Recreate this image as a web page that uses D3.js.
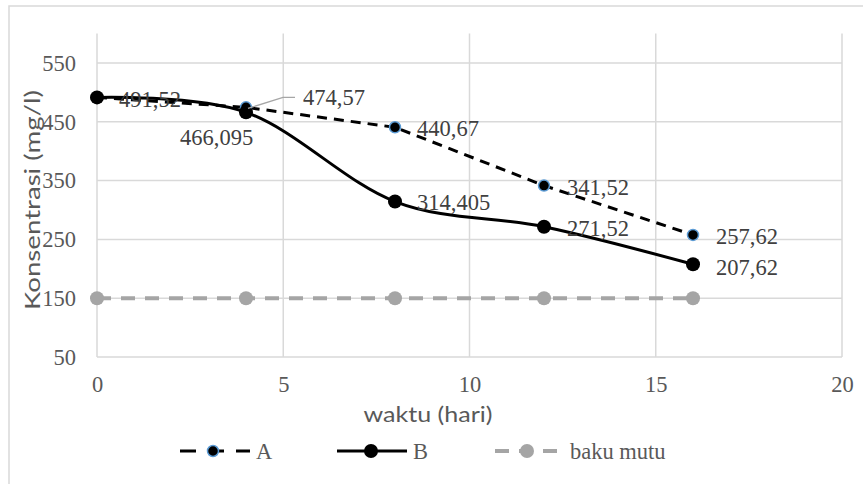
<!DOCTYPE html>
<html><head><meta charset="utf-8">
<script src="https://cdn.jsdelivr.net/npm/d3@7/dist/d3.min.js"></script>
<style>body{margin:0;background:#fff}svg{display:block}</style>
</head><body>
<svg id="c" width="863" height="484"></svg>
<script>
const days = [0, 4, 8, 12, 16];
const seriesA = [491.52, 474.57, 440.67, 341.52, 257.62];
const seriesB = [491.52, 466.095, 314.405, 271.52, 207.62];
const bakuMutu = [150, 150, 150, 150, 150];
const labelsA = ["", "474,57", "440,67", "341,52", "257,62"];
const labelsB = ["491,52", "466,095", "314,405", "271,52", "207,62"];
const xTicks = [0, 5, 10, 15, 20];
const yTicks = [50, 150, 250, 350, 450, 550];
const legendNames = ["A", "B", "baku mutu"];

const svg = d3.select("#c");
const x = d3.scaleLinear().domain([0, 20]).range([97, 842]);
const y = d3.scaleLinear().domain([50, 600]).range([357, 33.6]);
const serif = "'Liberation Serif','Times New Roman',serif";
const sans = "Lato,'Open Sans',sans-serif";
const FS = 22.5;

// chart border
svg.append("rect").attr("x", 9).attr("y", 6).attr("width", 870).attr("height", 490)
  .attr("fill", "none").attr("stroke", "#d9d9d9").attr("stroke-width", 1.5);

// gridlines
const g = svg.append("g");
g.selectAll(".hg").data(yTicks).join("line")
  .attr("x1", x(0)).attr("x2", x(20)).attr("y1", d => y(d)).attr("y2", d => y(d))
  .attr("stroke", "#d9d9d9").attr("stroke-width", 1.5);
g.selectAll(".vg").data(xTicks).join("line")
  .attr("y1", y(50)).attr("y2", y(600)).attr("x1", d => x(d)).attr("x2", d => x(d))
  .attr("stroke", "#d9d9d9").attr("stroke-width", 1.5);

// axes labels
const yAxis = d3.axisLeft(y).tickValues(yTicks).tickSize(0).tickPadding(21).tickFormat(d3.format("d"));
const ya = svg.append("g").attr("transform", `translate(${x(0)},0)`).call(yAxis)
  .attr("font-family", serif).attr("font-size", FS);
ya.select(".domain").remove();
ya.selectAll("text").attr("fill", "#595959");

const xAxis = d3.axisBottom(x).tickValues(xTicks).tickSize(0).tickPadding(19).tickFormat(d3.format("d"));
const xa = svg.append("g").attr("transform", `translate(0,${y(50)})`).call(xAxis)
  .attr("font-family", serif).attr("font-size", FS);
xa.select(".domain").remove();
xa.selectAll("text").attr("fill", "#595959");

// axis titles
svg.append("text").attr("x", 428).attr("y", 422).attr("text-anchor", "middle")
  .attr("font-family", sans).attr("font-size", 22).attr("fill", "#595959")
  .attr("textLength", 129).attr("lengthAdjust", "spacingAndGlyphs").text("waktu (hari)");
svg.append("text").attr("transform", "translate(40,200) rotate(-90)").attr("text-anchor", "middle")
  .attr("font-family", sans).attr("font-size", 22).attr("fill", "#595959")
  .attr("textLength", 220).attr("lengthAdjust", "spacingAndGlyphs").text("Konsentrasi (mg/l)");

const ptsA = days.map((d, i) => [d, seriesA[i]]);
const ptsB = days.map((d, i) => [d, seriesB[i]]);
const ptsC = days.map((d, i) => [d, bakuMutu[i]]);

// baku mutu
svg.append("path").datum(ptsC)
  .attr("d", d3.line().x(d => x(d[0])).y(d => y(d[1])))
  .attr("fill", "none").attr("stroke", "#a5a5a5").attr("stroke-width", 4).attr("stroke-dasharray", "14,10");
svg.selectAll(".mc").data(ptsC).join("circle")
  .attr("cx", d => x(d[0])).attr("cy", d => y(d[1])).attr("r", 7).attr("fill", "#a5a5a5");

// A
svg.append("path").datum(ptsA)
  .attr("d", d3.line().x(d => x(d[0])).y(d => y(d[1])))
  .attr("fill", "none").attr("stroke", "#000").attr("stroke-width", 3).attr("stroke-dasharray", "10,7");
svg.selectAll(".ma").data(ptsA).join("circle")
  .attr("cx", d => x(d[0])).attr("cy", d => y(d[1])).attr("r", 5.5)
  .attr("fill", "#000").attr("stroke", "#5b9bd5").attr("stroke-width", 1.5);

// B
svg.append("path").datum(ptsB)
  .attr("d", d3.line().curve(d3.curveCatmullRom.alpha(0)).x(d => x(d[0])).y(d => y(d[1])))
  .attr("fill", "none").attr("stroke", "#000").attr("stroke-width", 3);
svg.selectAll(".mb").data(ptsB).join("circle")
  .attr("cx", d => x(d[0])).attr("cy", d => y(d[1])).attr("r", 7).attr("fill", "#000");

// leader line for A at day 4
const lx = x(days[1]), ly = y(seriesA[1]);
svg.append("path").attr("d", `M${lx+2},${ly+1}L${lx+37},${ly-10}L${lx+49},${ly-10}`)
  .attr("fill", "none").attr("stroke", "#a6a6a6").attr("stroke-width", 1.3);

// data labels
const lblStyle = s => s.attr("font-family", serif).attr("font-size", FS).attr("fill", "#404040").attr("dominant-baseline", "central");
const offA = [[0,0],[57,-10],[22,1],[23,2],[23,2]];
svg.selectAll(".la").data(ptsA).join("text")
  .attr("x", (d, i) => x(d[0]) + offA[i][0]).attr("y", (d, i) => y(d[1]) + offA[i][1])
  .text((d, i) => labelsA[i]).call(lblStyle);
const offB = [[22,2],[-66,25],[22,1],[23,2],[23,3]];
svg.selectAll(".lb").data(ptsB).join("text")
  .attr("x", (d, i) => x(d[0]) + offB[i][0]).attr("y", (d, i) => y(d[1]) + offB[i][1])
  .text((d, i) => labelsB[i]).call(lblStyle);

// legend
const ly0 = 451;
const leg = svg.append("g");
// A
leg.append("line").attr("x1", 180).attr("x2", 250).attr("y1", ly0).attr("y2", ly0)
  .attr("stroke", "#000").attr("stroke-width", 3).attr("stroke-dasharray", "16,12");
leg.append("circle").attr("cx", 213).attr("cy", ly0).attr("r", 5.5).attr("fill", "#000").attr("stroke", "#5b9bd5").attr("stroke-width", 1.5);
leg.append("text").attr("x", 256).attr("y", ly0).text(legendNames[0]).call(lblStyle).attr("fill", "#595959");
// B
leg.append("line").attr("x1", 337).attr("x2", 407).attr("y1", ly0).attr("y2", ly0)
  .attr("stroke", "#000").attr("stroke-width", 3);
leg.append("circle").attr("cx", 371).attr("cy", ly0).attr("r", 7).attr("fill", "#000");
leg.append("text").attr("x", 413).attr("y", ly0).text(legendNames[1]).call(lblStyle).attr("fill", "#595959");
// baku mutu
leg.append("line").attr("x1", 495).attr("x2", 565).attr("y1", ly0).attr("y2", ly0)
  .attr("stroke", "#a5a5a5").attr("stroke-width", 4).attr("stroke-dasharray", "14,10");
leg.append("circle").attr("cx", 527).attr("cy", ly0).attr("r", 7).attr("fill", "#a5a5a5");
leg.append("text").attr("x", 570).attr("y", ly0).text(legendNames[2]).call(lblStyle).attr("fill", "#595959");
</script>
</body></html>
